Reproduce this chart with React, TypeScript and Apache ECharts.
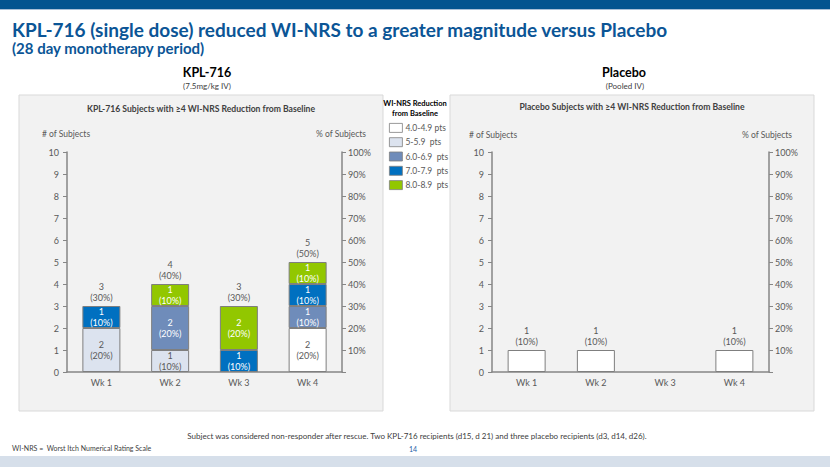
import React, { useEffect, useRef } from "react";
import * as echarts from "echarts";

const weeks = ["Wk 1", "Wk 2", "Wk 3", "Wk 4"];
const bands = ["4.0-4.9 pts", "5-5.9  pts", "6.0-6.9  pts", "7.0-7.9  pts", "8.0-8.9  pts"];
const bandColors = ["#FFFFFF", "#DCE3EF", "#6F8CBA", "#0070C0", "#92C700"];
const bandLabelColors = ["#595959", "#595959", "#FFFFFF", "#FFFFFF", "#FFFFFF"];
const armSize = 10;

// KPL-716 subjects per WI-NRS reduction band, by week
const kpl_4_0 = [0, 0, 0, 2];
const kpl_5_0 = [2, 1, 0, 0];
const kpl_6_0 = [0, 2, 0, 1];
const kpl_7_0 = [1, 0, 1, 1];
const kpl_8_0 = [0, 1, 2, 1];

// Placebo subjects per band, by week
const pbo_4_0 = [1, 1, 0, 1];
const pbo_5_0 = [0, 0, 0, 0];
const pbo_6_0 = [0, 0, 0, 0];
const pbo_7_0 = [0, 0, 0, 0];
const pbo_8_0 = [0, 0, 0, 0];

const countTicks = [0, 10];
const pctTicks = [0, 100];

const kplBands = [kpl_4_0, kpl_5_0, kpl_6_0, kpl_7_0, kpl_8_0];
const pboBands = [pbo_4_0, pbo_5_0, pbo_6_0, pbo_7_0, pbo_8_0];

const FONT = "Lato, 'Open Sans', sans-serif";
const AX = "#868686";
const TXT = "#595959";

function totals(arr: number[][]) {
  return weeks.map((_, i) => arr.reduce((s, a) => s + a[i], 0));
}

function buildSeries(arr: number[][], stack: string, xi: number, yi: number, inside: boolean) {
  const s: any[] = arr.map((vals, b) => ({
    type: "bar",
    name: bands[b],
    stack,
    xAxisIndex: xi,
    yAxisIndex: yi,
    barWidth: 38,
    data: vals.map((v) => (v === 0 ? "-" : v)),
    itemStyle: { color: bandColors[b], borderColor: "#7F7F7F", borderWidth: 1 },
    label: {
      show: inside,
      position: "inside",
      color: bandLabelColors[b],
      fontSize: 9,
      lineHeight: 11,
      fontFamily: FONT,
      formatter: (p: any) => `${p.value}\n(${Math.round((p.value * 100) / armSize)}%)`,
    },
  }));
  const tot = totals(arr);
  s.push({
    type: "bar",
    name: stack + "-total",
    stack,
    xAxisIndex: xi,
    yAxisIndex: yi,
    barWidth: 38,
    silent: true,
    data: tot.map(() => 0),
    itemStyle: { color: "rgba(0,0,0,0)", borderWidth: 0 },
    label: {
      show: true,
      position: "top",
      distance: 3,
      color: TXT,
      fontSize: 9,
      lineHeight: 11,
      fontFamily: FONT,
      formatter: (p: any) => {
        const t = tot[p.dataIndex];
        return t ? `${t}\n(${Math.round((t * 100) / armSize)}%)` : "";
      },
    },
  });
  return s;
}

function xAxisFor(gi: number) {
  return {
    type: "category",
    gridIndex: gi,
    data: weeks,
    axisLine: { lineStyle: { color: AX, width: 1.5 } },
    axisTick: { show: false },
    axisLabel: { color: TXT, fontSize: 9, margin: 6, fontFamily: FONT },
  };
}

function countAxis(gi: number) {
  return {
    type: "value",
    gridIndex: gi,
    position: "left",
    min: countTicks[0],
    max: countTicks[1],
    interval: 1,
    splitLine: { show: false },
    axisLine: { show: true, lineStyle: { color: AX, width: 1.5 } },
    axisTick: { show: true, length: 4, lineStyle: { color: AX } },
    axisLabel: { color: TXT, fontSize: 9, margin: 8, fontFamily: FONT },
  };
}

function pctAxis(gi: number) {
  return {
    type: "value",
    gridIndex: gi,
    position: "right",
    min: pctTicks[0],
    max: pctTicks[1],
    interval: 10,
    splitLine: { show: false },
    axisLine: { show: true, lineStyle: { color: AX, width: 1.5 } },
    axisTick: { show: true, length: 4, lineStyle: { color: AX } },
    axisLabel: {
      color: TXT,
      fontSize: 9,
      margin: 6,
      fontFamily: FONT,
      formatter: (v: number) => (v === 0 ? "" : `${v}%`),
    },
  };
}

function txt(text: string, x: number, y: number, size: number, fill: string, weight = "normal", align = "center") {
  return {
    type: "text",
    x,
    y,
    z: 1,
    style: {
      text,
      fill,
      font: `${weight} ${size}px ${FONT}`,
      textAlign: align,
      textVerticalAlign: "middle",
    },
  };
}

export default function App() {
  const ref = useRef<HTMLDivElement>(null);
  useEffect(() => {
    if (!ref.current) return;
    const chart = echarts.init(ref.current, undefined, { renderer: "svg" });
    const option: any = {
      animation: false,
      backgroundColor: "#FFFFFF",
      textStyle: { fontFamily: FONT },
      grid: [
        { left: 67, top: 152, width: 275, height: 220 },
        { left: 492, top: 152, width: 277, height: 220 },
      ],
      xAxis: [xAxisFor(0), xAxisFor(1)],
      yAxis: [countAxis(0), pctAxis(0), countAxis(1), pctAxis(1)],
      legend: {
        orient: "vertical",
        left: 389,
        top: 123,
        padding: 0,
        itemWidth: 13,
        itemHeight: 9,
        itemGap: 4.5,
        icon: "rect",
        selectedMode: false,
        data: bands,
        itemStyle: { borderWidth: 0.8 },
        textStyle: { color: TXT, fontSize: 8.5, fontFamily: FONT, padding: [0, 0, 0, -2] },
      },
      graphic: [
        { type: "rect", z: 0, shape: { x: 0, y: 0, width: 830, height: 9 }, style: { fill: "#03548F" } },
        { type: "rect", z: 0, shape: { x: 0, y: 9, width: 830, height: 1 }, style: { fill: "#A9BFD6" } },
        { type: "rect", z: 0, shape: { x: 0, y: 456, width: 830, height: 11 }, style: { fill: "#D6DFEA" } },
        { type: "rect", z: 0, shape: { x: 19, y: 95, width: 364, height: 316 }, style: { fill: "#F2F2F2", stroke: "#D9D9D9", lineWidth: 1 } },
        { type: "rect", z: 0, shape: { x: 450, y: 95, width: 364, height: 316 }, style: { fill: "#F2F2F2", stroke: "#D9D9D9", lineWidth: 1 } },
        txt("KPL-716 (single dose) reduced WI-NRS to a greater magnitude versus Placebo", 12, 29, 19, "#0B5596", "bold", "left"),
        txt("(28 day monotherapy period)", 12, 48, 15, "#0B5596", "bold", "left"),
        txt("KPL-716", 207, 72, 12.5, "#000000", "bold"),
        txt("(7.5mg/kg IV)", 207, 86, 8, "#404040"),
        txt("Placebo", 624, 72, 12.5, "#000000", "bold"),
        txt("(Pooled IV)", 625, 86, 8, "#404040"),
        txt("KPL-716 Subjects with \u22654 WI-NRS Reduction from Baseline", 201, 109, 8.6, "#404040", "bold"),
        txt("Placebo Subjects with \u22654 WI-NRS Reduction from Baseline", 632, 107, 8.6, "#404040", "bold"),
        txt("# of Subjects", 66, 134, 8.5, TXT),
        txt("% of Subjects", 341, 134, 8.5, TXT),
        txt("# of Subjects", 493, 135, 8.5, TXT),
        txt("% of Subjects", 767, 135, 8.5, TXT),
        txt("WI-NRS Reduction", 415, 103, 7.5, "#000000", "bold"),
        txt("from Baseline", 415, 113, 7.5, "#000000", "bold"),
        txt(
          "Subject was considered non-responder after rescue. Two KPL-716 recipients (d15, d 21) and three placebo recipients (d3, d14, d26).",
          417,
          436,
          8,
          "#404040"
        ),
        txt("WI-NRS =  Worst Itch Numerical Rating Scale", 12, 448, 7, "#404040", "normal", "left"),
        txt("14", 413, 449, 7, "#1F5FA8"),
      ],
      series: [...buildSeries(kplBands, "kpl", 0, 0, true), ...buildSeries(pboBands, "pbo", 1, 2, false)],
    };
    chart.setOption(option);
    return () => chart.dispose();
  }, []);
  return <div ref={ref} style={{ position: "absolute", left: 0, top: 0, width: 830, height: 467 }} />;
}
